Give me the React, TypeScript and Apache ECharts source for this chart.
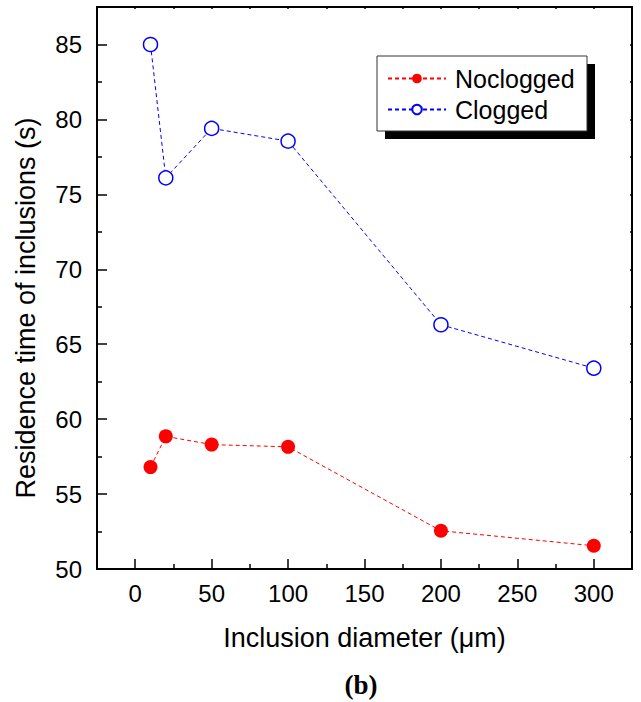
import React, { useEffect, useRef } from "react";
import * as echarts from "echarts";

const diameters = [10, 20, 50, 100, 200, 300];
const noclogged = [56.8, 58.85, 58.3, 58.15, 52.55, 51.55];
const clogged = [85.0, 76.1, 79.4, 78.55, 66.3, 63.4];

const xMajor = [0, 50, 100, 150, 200, 250, 300];
const xMinor = [25, 75, 125, 175, 225, 275];
const xAll = [0, 25, 50, 75, 100, 125, 150, 175, 200, 225, 250, 275, 300];
const yMajor = [50, 55, 60, 65, 70, 75, 80, 85];
const yMinor = [52.5, 57.5, 62.5, 67.5, 72.5, 77.5, 82.5, 87.5];
const yAll = [50, 52.5, 55, 57.5, 60, 62.5, 65, 67.5, 70, 72.5, 75, 77.5, 80, 82.5, 85, 87.5];

const seriesNames = ["Noclogged", "Clogged"];
const xTitle = "Inclusion diameter (μm)";
const yTitle = "Residence time of inclusions (s)";
const caption = "(b)";

const FONT = "'Liberation Sans', Arial, Helvetica, sans-serif";

export default function App() {
  const ref = useRef<HTMLDivElement>(null);
  useEffect(() => {
    if (!ref.current) return;
    const chart = echarts.init(ref.current, undefined, { renderer: "svg" });
    const axisLine = { show: true, onZero: false, lineStyle: { color: "#000", width: 2 } };
    const noLine = { show: false, onZero: false };
    const baseX = { type: "value", min: -25, max: 325, gridIndex: 0, splitLine: { show: false } };
    const baseY = { type: "value", min: 50, max: 87.5, gridIndex: 0, splitLine: { show: false } };
    chart.setOption({
      animation: false,
      backgroundColor: "#fff",
      grid: { left: 97, right: 9, top: 7, bottom: 133, containLabel: false },
      xAxis: [
        {
          ...baseX,
          position: "bottom",
          axisLine,
          axisTick: { show: true, inside: true, length: 10, customValues: xMajor, lineStyle: { color: "#000", width: 1.5 } },
          axisLabel: { show: true, customValues: xMajor, fontSize: 24, fontFamily: FONT, color: "#000", margin: 12 },
          name: xTitle,
          nameLocation: "middle",
          nameGap: 55,
          nameTextStyle: { fontSize: 27, fontFamily: FONT, color: "#000" },
        },
        {
          ...baseX,
          position: "bottom",
          axisLine: noLine,
          axisTick: { show: true, inside: true, length: 5, customValues: xMinor, lineStyle: { color: "#000", width: 1.5 } },
          axisLabel: { show: false },
        },
        {
          ...baseX,
          position: "top",
          axisLine,
          axisTick: { show: true, inside: true, length: 2, customValues: xAll, lineStyle: { color: "#000", width: 1.5 } },
          axisLabel: { show: false },
        },
      ],
      yAxis: [
        {
          ...baseY,
          position: "left",
          axisLine,
          axisTick: { show: true, inside: true, length: 10, customValues: yMajor, lineStyle: { color: "#000", width: 1.5 } },
          axisLabel: { show: true, customValues: yMajor, fontSize: 24, fontFamily: FONT, color: "#000", margin: 15 },
        },
        {
          ...baseY,
          position: "left",
          axisLine: noLine,
          axisTick: { show: true, inside: true, length: 5, customValues: yMinor, lineStyle: { color: "#000", width: 1.5 } },
          axisLabel: { show: false },
        },
        {
          ...baseY,
          position: "right",
          axisLine,
          axisTick: { show: true, inside: true, length: 2, customValues: yAll, lineStyle: { color: "#000", width: 1.5 } },
          axisLabel: { show: false },
        },
      ],
      legend: {
        orient: "vertical",
        left: 387,
        top: 66,
        padding: 0,
        itemWidth: 58,
        itemHeight: 12,
        itemGap: 6,
        z: 10,
        textStyle: { fontSize: 25, lineHeight: 25, fontFamily: FONT, color: "#000", padding: [0, 0, 0, 4] },
        data: seriesNames,
      },
      graphic: [
        { type: "rect", z: 1, shape: { x: 385, y: 64, width: 210, height: 75 }, style: { fill: "#000" } },
        { type: "rect", z: 2, shape: { x: 377, y: 56, width: 210, height: 75 }, style: { fill: "#fff", stroke: "#333", lineWidth: 1 } },
        {
          type: "text",
          x: 26,
          y: 308,
          rotation: Math.PI / 2,
          style: { text: yTitle, font: `27px ${FONT}`, fill: "#000", align: "center", verticalAlign: "middle" },
        },
        {
          type: "text",
          x: 361,
          y: 685,
          style: { text: caption, font: `bold 27px 'Liberation Serif', 'Times New Roman', serif`, fill: "#000", align: "center", verticalAlign: "middle" },
        },
      ],
      series: [
        {
          name: seriesNames[0],
          type: "line",
          xAxisIndex: 0,
          yAxisIndex: 0,
          data: diameters.map((d, i) => [d, noclogged[i]]),
          symbol: "circle",
          symbolSize: 14,
          z: 5,
          itemStyle: { color: "#ff0000" },
          lineStyle: { color: "#ff0000", width: 1, type: [4, 3] },
        },
        {
          name: seriesNames[1],
          type: "line",
          xAxisIndex: 0,
          yAxisIndex: 0,
          data: diameters.map((d, i) => [d, clogged[i]]),
          symbol: "circle",
          symbolSize: 14,
          z: 5,
          itemStyle: { color: "#ffffff", borderColor: "#0000ff", borderWidth: 1.5 },
          lineStyle: { color: "#0000ff", width: 1, type: [4, 3] },
        },
      ],
    });
    return () => chart.dispose();
  }, []);
  return <div ref={ref} style={{ position: "absolute", left: 0, top: 0, width: 641, height: 702 }} />;
}
